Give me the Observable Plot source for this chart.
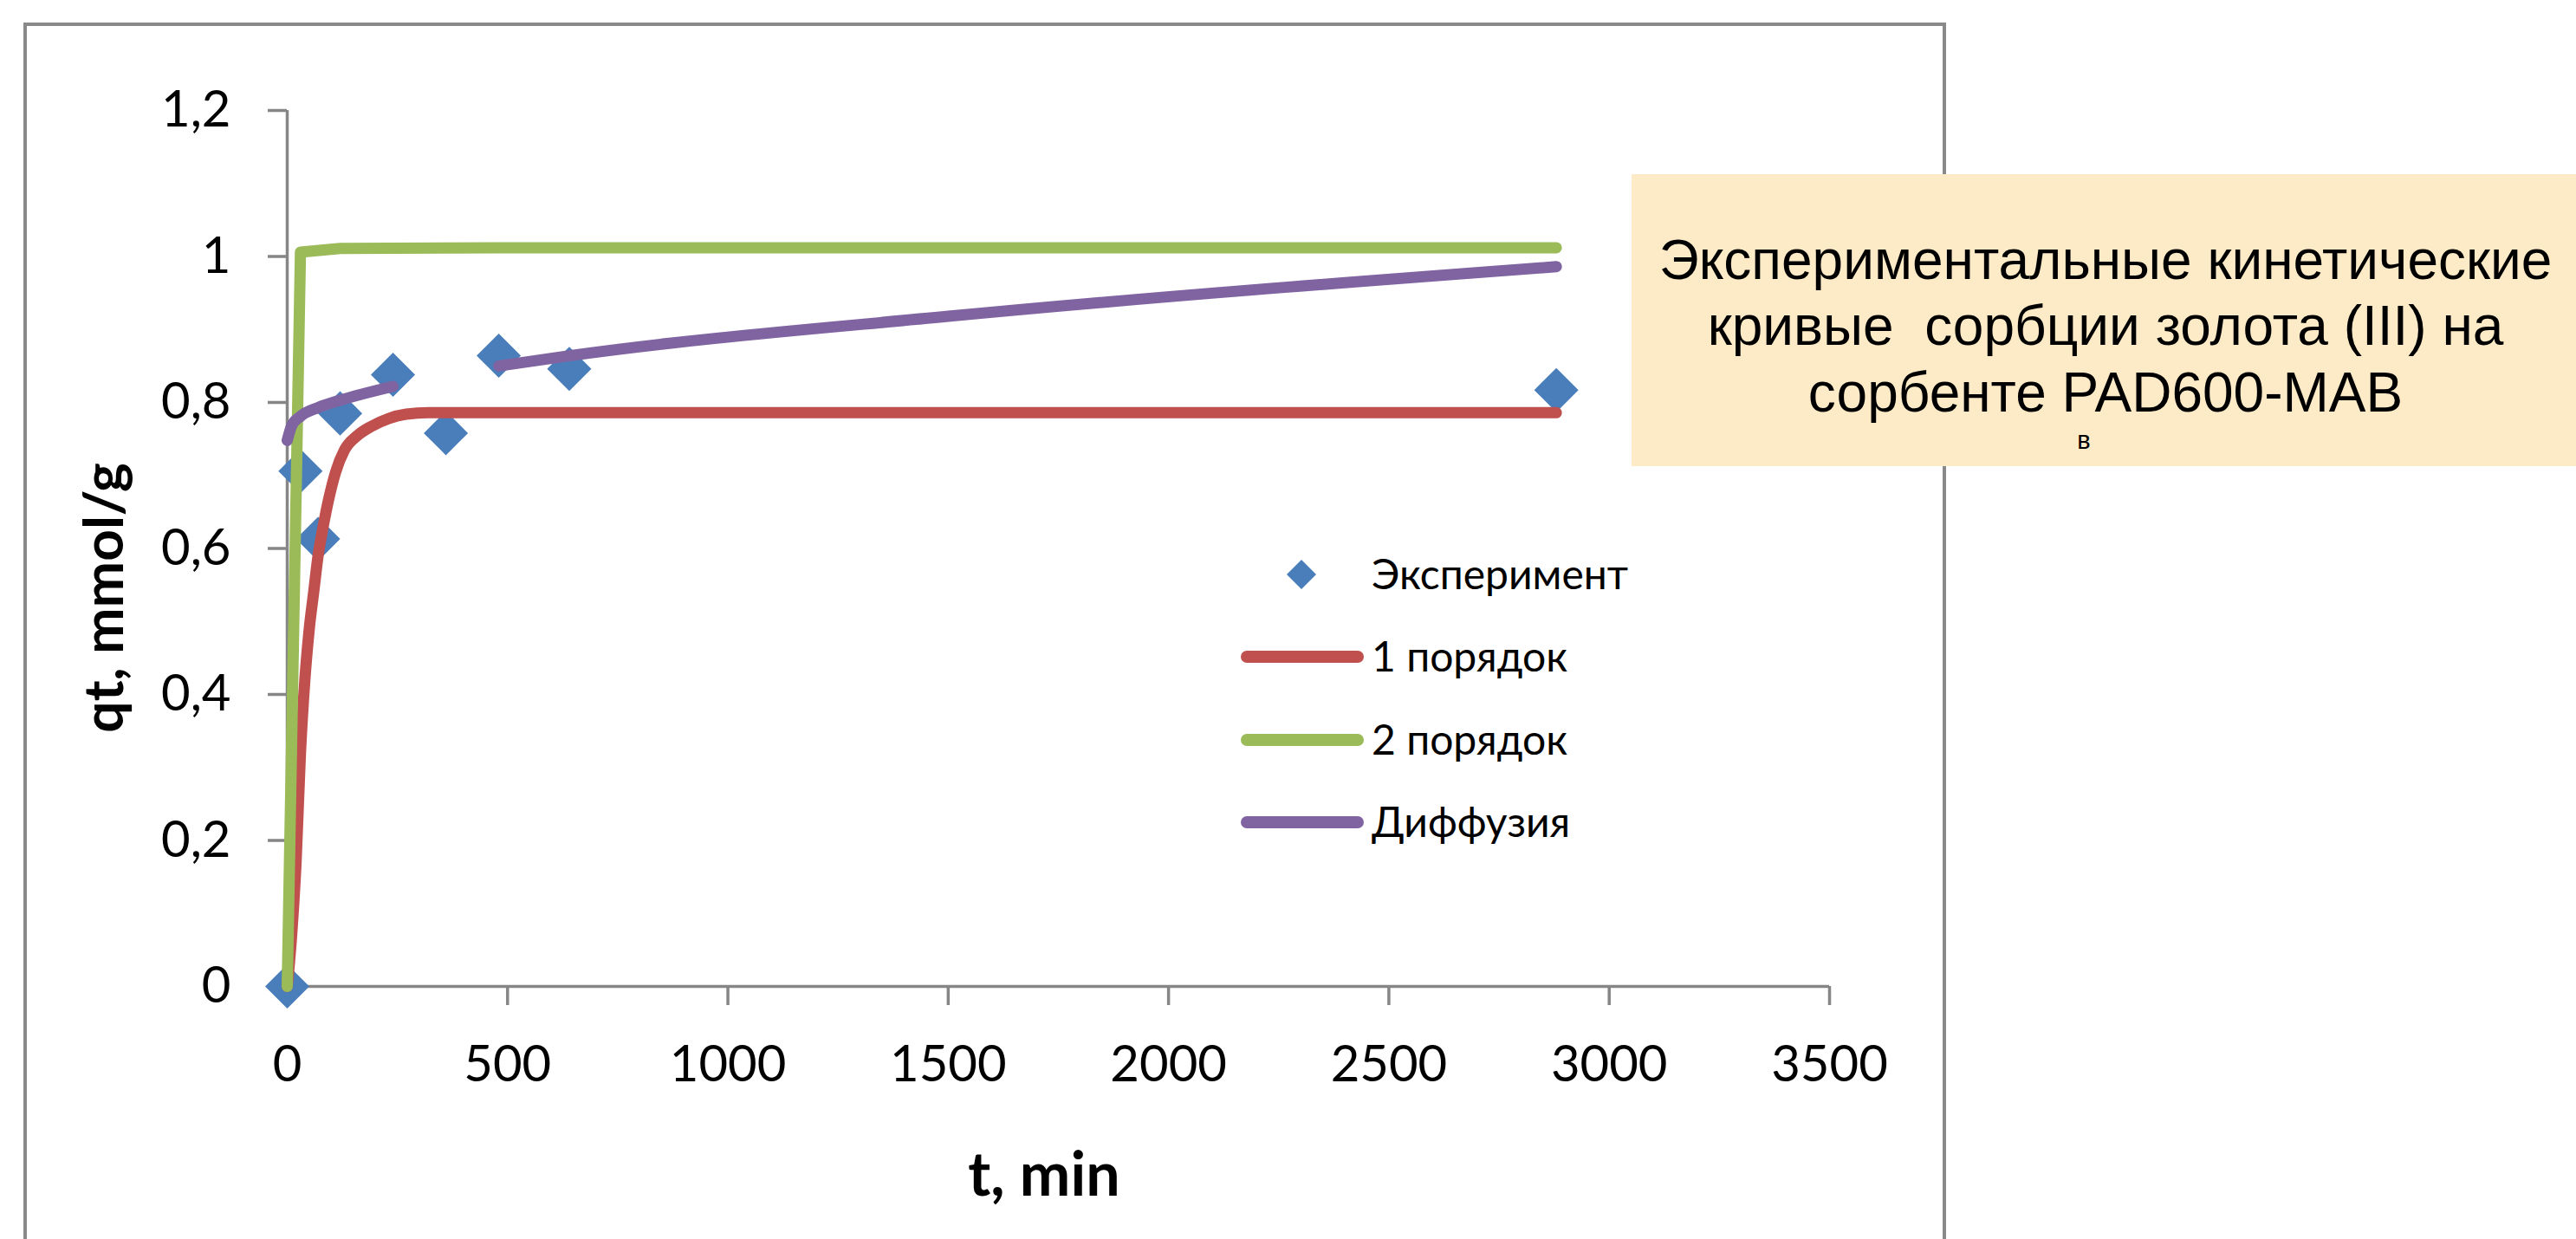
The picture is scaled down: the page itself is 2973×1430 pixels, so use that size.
<!DOCTYPE html>
<html>
<head>
<meta charset="utf-8">
<script src="https://cdn.jsdelivr.net/npm/d3@7"></script>
<script src="https://cdn.jsdelivr.net/npm/@observablehq/plot@0.6"></script>
<style>
  html, body { margin: 0; padding: 0; background: #ffffff; }
  #page { position: relative; width: 2973px; height: 1430px; overflow: hidden; background: #ffffff; }
  #border { position: absolute; left: 27px; top: 26px; width: 2219px; height: 2000px; border: 4.5px solid #898989; box-sizing: border-box; z-index: 0; }
  #chart { position: absolute; left: 0; top: 0; z-index: 1; }
  #box { position: absolute; left: 1883px; top: 201px; width: 1090px; height: 337px; background: #fdebc8; z-index: 2; }
  #overlay { position: absolute; left: 0; top: 0; z-index: 3; }
  #overlay text { white-space: pre; }
</style>
</head>
<body>
<div id="page">
  <div id="border"></div>
  <div id="chart"></div>
  <div id="box"></div>
  <svg id="overlay" width="2973" height="1430"></svg>
</div>
<script>
// ---- data ----
const seriesNames = ["Эксперимент", "1 порядок", "2 порядок", "Диффузия"];
const seriesColors = ["#4A7EBB", "#C0504D", "#9BBB59", "#8064A2"];

const expT = [0, 30, 70, 120, 240, 360, 480, 640, 2880];
const expQ = [0, 0.706, 0.613, 0.785, 0.838, 0.758, 0.864, 0.846, 0.817];

const firstT = [0, 10, 20, 30, 40, 50, 60, 70, 80, 95, 110, 130, 160, 190, 230, 270, 320, 2880];
const firstQ = [0, 0.07, 0.17, 0.32, 0.42, 0.49, 0.54, 0.59, 0.625, 0.67, 0.705, 0.735, 0.755, 0.767, 0.778, 0.784, 0.786, 0.786];

const secondT = [0, 30, 120, 480, 2880];
const secondQ = [0, 1.006, 1.011, 1.012, 1.012];

const diffT = [0, 10, 30, 70, 120, 240, 360, 480, 640, 1500, 2880];
const diffQ = [0.748, 0.768, 0.781, 0.793, 0.803, 0.822, NaN, 0.850, 0.864, 0.918, 0.986];

const xTicks = [0, 500, 1000, 1500, 2000, 2500, 3000, 3500];
const yTicks = [0, 0.2, 0.4, 0.6, 0.8, 1, 1.2];
const yTickLabels = ["0", "0,2", "0,4", "0,6", "0,8", "1", "1,2"];

const xTitle = "t, min";
const yTitle = "qt, mmol/g";
const noteLines = ["Экспериментальные кинетические", "кривые  сорбции золота (III) на", "сорбенте PAD600-MAB"];
const noteSmall = "в";

// ---- build tables ----
const exp = expT.map((t, i) => ({t, q: expQ[i]}));
const first = firstT.map((t, i) => ({t, q: firstQ[i]}));
const second = secondT.map((t, i) => ({t, q: secondQ[i]}));
const diff = diffT.map((t, i) => ({t, q: diffQ[i]}));

const axisGray = "#868686";
const lineW = 13;
const chart = Plot.plot({
  width: 2973,
  height: 1430,
  marginLeft: 331,
  marginRight: 862,
  marginTop: 127,
  marginBottom: 292,
  x: {domain: [0, 3500]},
  y: {domain: [0, 1.2]},
  style: {fontFamily: "Lato, sans-serif", fontSize: "58px", color: "#000", background: "transparent", overflow: "visible"},
  marks: [
    Plot.ruleY([0], {stroke: axisGray, strokeWidth: 3.5}),
    Plot.ruleX([0], {stroke: axisGray, strokeWidth: 3.5}),
    Plot.axisX({ticks: xTicks, tickSize: 22, tickPadding: 46, stroke: axisGray, strokeWidth: 3.5, tickFormat: d => String(d), label: null, fontSize: 58, fill: "#000"}),
    Plot.axisY({ticks: yTicks, tickSize: 22, tickPadding: 43, stroke: axisGray, strokeWidth: 3.5,
      tickFormat: d => yTickLabels[yTicks.findIndex(v => Math.abs(v - d) < 1e-9)], label: null, fontSize: 58, fill: "#000"}),
    Plot.dot(exp, {x: "t", y: "q", symbol: "diamond2", r: 23, fill: seriesColors[0], stroke: "none"}),
    Plot.line(first, {x: "t", y: "q", stroke: seriesColors[1], strokeWidth: lineW, curve: "monotone-x", strokeLinecap: "round", strokeLinejoin: "round"}),
    Plot.line(second, {x: "t", y: "q", stroke: seriesColors[2], strokeWidth: lineW, curve: "linear", strokeLinecap: "round", strokeLinejoin: "round"}),
    Plot.line(diff, {x: "t", y: "q", stroke: seriesColors[3], strokeWidth: lineW, curve: "monotone-x", strokeLinecap: "round", strokeLinejoin: "round"})
  ]
});
document.getElementById("chart").appendChild(chart);

// ---- overlay: titles, legend, note ----
const ov = d3.select("#overlay");
ov.append("text")
  .attr("transform", "translate(142,690) rotate(-90)")
  .attr("text-anchor", "middle")
  .attr("font-family", "Lato, sans-serif").attr("font-weight", "bold").attr("font-size", 64)
  .text(yTitle);
ov.append("text")
  .attr("x", 1205).attr("y", 1380)
  .attr("text-anchor", "middle")
  .attr("font-family", "Lato, sans-serif").attr("font-weight", "bold").attr("font-size", 70)
  .text(xTitle);

// legend
const legendRowsY = [663, 758, 854, 949];
const legend = ov.append("g");
seriesNames.forEach((name, i) => {
  const cy = legendRowsY[i];
  if (i === 0) {
    const h = 17;
    legend.append("path")
      .attr("d", `M1502,${cy - h}L${1502 + h},${cy}L1502,${cy + h}L${1502 - h},${cy}Z`)
      .attr("fill", seriesColors[0]);
  } else {
    legend.append("line")
      .attr("x1", 1439).attr("x2", 1567).attr("y1", cy).attr("y2", cy)
      .attr("stroke", seriesColors[i]).attr("stroke-width", 14).attr("stroke-linecap", "round");
  }
  legend.append("text")
    .attr("x", 1583).attr("y", cy + 17)
    .attr("font-family", "Lato, sans-serif").attr("font-size", 48).attr("fill", "#000")
    .text(name);
});

// note box text
const noteBaselines = [322, 398, 475];
noteLines.forEach((s, i) => {
  ov.append("text")
    .attr("x", 2430).attr("y", noteBaselines[i])
    .attr("text-anchor", "middle")
    .attr("font-family", "'Liberation Sans', Arial, sans-serif").attr("font-size", 64).attr("fill", "#000")
    .text(s);
});
ov.append("text")
  .attr("x", 2405).attr("y", 518)
  .attr("text-anchor", "middle")
  .attr("font-family", "'Liberation Sans', Arial, sans-serif").attr("font-size", 29).attr("fill", "#000")
  .text(noteSmall);
</script>
</body>
</html>
